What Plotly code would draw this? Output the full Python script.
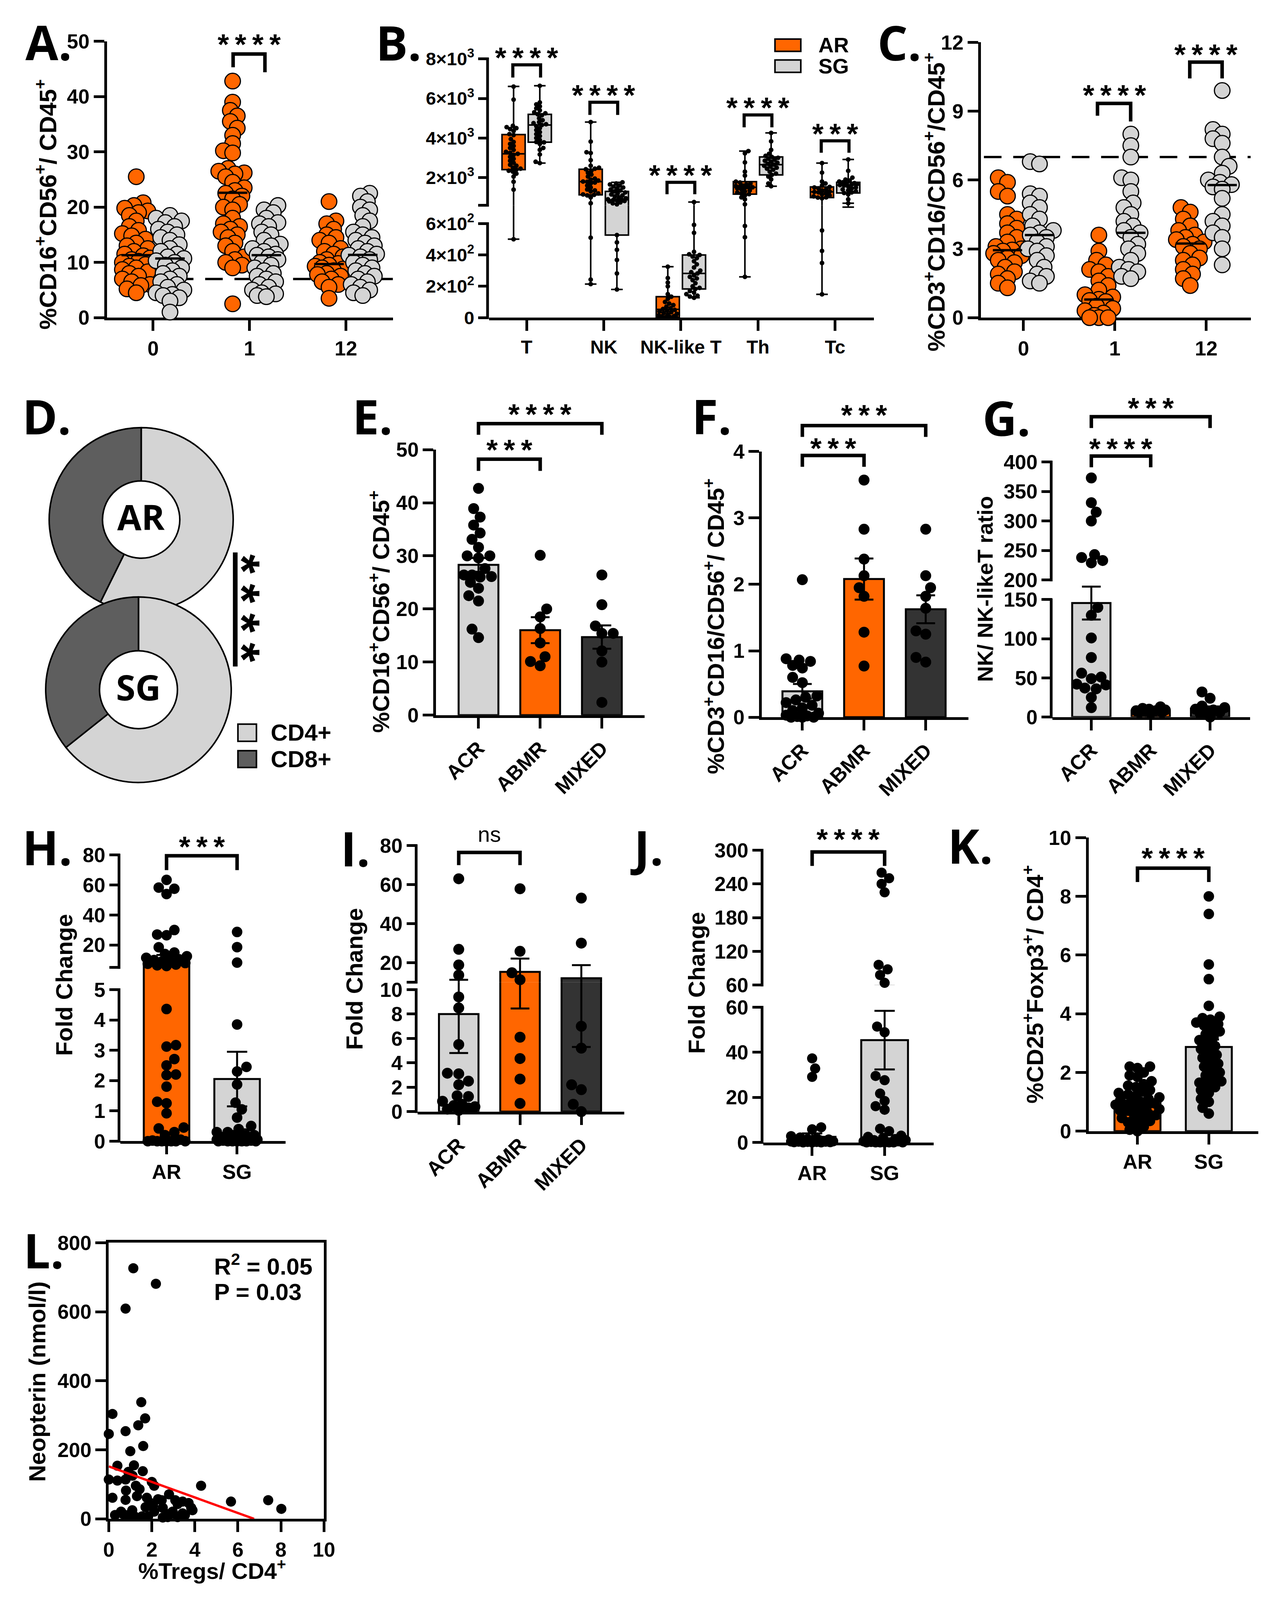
import numpy as np
import plotly.graph_objects as go

W, H = 3274, 4214          # reference coordinate frame
FIG_H = 4096               # visible viewport height of the browser window
ORANGE = "#FF6600"
LGRAY = "#D4D4D4"
DARK = "#333333"
DONUT_DARK = "#5E5E5E"
FONT = "Liberation Sans, Arial, Helvetica, sans-serif"
LFONT = "Open Sans, Liberation Sans, sans-serif"
LW = 7
TL = 27
BAR_W = 0.645
TFS = 52                   # tick font size of the lower panels

# ======================= DATA =======================
# ---- A : %CD16+CD56+/CD45+ over time (AR vs SG)
A_CATS = ["0", "1", "12"]
A_AR_0 = [25.5, 20.8, 20.3, 19.8, 19.3, 19.0, 18.5, 17.5, 16.5, 15.8, 15.2, 14.8, 14.2, 13.5, 13.0, 12.5, 12.0, 11.5,
          11.2, 10.8, 10.5, 10.2, 10.0, 9.6, 9.3, 9.0, 8.7, 8.3, 8.0, 7.5, 7.0, 6.5, 6.0, 5.8, 5.2, 4.5]
A_SG_0 = [18.5, 18.0, 17.5, 17.2, 16.5, 16.0, 15.5, 15.0, 14.5, 14.0, 13.2, 12.5, 12.0, 11.5, 11.0, 10.7, 10.3, 10.0,
          9.5, 9.0, 8.5, 8.0, 7.5, 7.0, 6.5, 6.0, 5.5, 5.0, 4.5, 4.2, 4.0, 3.6, 3.0, 1.0]
A_AR_1 = [42.8, 39.0, 37.5, 36.5, 35.5, 34.3, 33.0, 31.5, 30.2, 29.8, 27.0, 26.5, 26.2, 26.0, 25.5, 24.5, 23.5, 23.0,
          22.5, 22.0, 21.5, 20.5, 20.0, 19.5, 18.0, 17.0, 16.5, 16.0, 15.5, 15.0, 14.5, 13.5, 13.0, 12.0, 11.0, 10.5,
          10.0, 9.5, 9.0, 2.5]
A_SG_1 = [20.3, 19.5, 19.0, 18.0, 17.2, 17.0, 16.5, 15.5, 15.0, 14.0, 13.3, 13.0, 12.5, 12.0, 11.5, 11.3, 11.0, 10.5,
          10.0, 9.5, 9.0, 8.5, 8.0, 7.5, 7.0, 6.5, 6.0, 5.5, 5.0, 4.5, 4.3, 4.0, 3.8]
A_AR_12 = [21.0, 17.5, 17.0, 16.0, 15.0, 14.5, 14.0, 13.5, 12.5, 12.0, 11.5, 11.0, 10.5, 10.0, 9.8, 9.5, 9.3, 9.0,
           8.8, 8.5, 8.0, 7.8, 7.5, 7.0, 6.5, 6.0, 5.5, 3.5]
A_SG_12 = [22.5, 22.0, 21.0, 20.0, 19.5, 18.5, 17.5, 16.5, 15.5, 15.0, 14.5, 14.0, 13.5, 13.0, 12.5, 12.0, 11.5, 11.3,
           11.0, 10.5, 10.0, 9.5, 9.0, 8.5, 8.0, 7.5, 7.0, 6.5, 6.0, 5.5, 5.0, 4.5, 4.0]
A_MED_AR = [11.3, 22.6, 9.7]
A_MED_SG = [10.7, 11.3, 11.35]
A_CUTOFF = 7
A_YTICKS = [0, 10, 20, 30, 40, 50]

# ---- B : absolute counts, box plots (min, q1, median, q3, max)
B_CATS = ["T", "NK", "NK-like T", "Th", "Tc"]
B_AR_MIN = [501, 214, 0, 260, 149]
B_AR_Q1 = [2401, 1129, 2, 1163, 992]
B_AR_MED = [3203, 1794, 53, 1507, 1278]
B_AR_Q3 = [4177, 2424, 134, 1794, 1530]
B_AR_MAX = [6607, 4808, 325, 3341, 2733]
B_SG_MIN = [2733, 180, 127, 1565, 705]
B_SG_Q1 = [3788, 527, 183, 2138, 1221]
B_SG_MED = [4659, 877, 282, 2653, 1622]
B_SG_Q3 = [5197, 1301, 400, 3043, 1759]
B_SG_MAX = [6641, 1759, 762, 4258, 2917]
B_T_AR = [6600, 5940, 4620, 4550, 4500, 4450, 4350, 4200, 4150, 3950, 3800, 3700, 3600, 3500, 3400, 3300, 3250, 3200,
          3150, 3050, 2950, 2850, 2750, 2650, 2600, 2500, 2450, 2400, 2350, 2300, 2200, 2050, 1790, 1390, 500]
B_T_SG = [6640, 5800, 5700, 5600, 5500, 5400, 5300, 5250, 5200, 5150, 5000, 4900, 4800, 4750, 4700, 4660, 4600, 4500,
          4400, 4300, 4200, 4100, 4000, 3900, 3800, 3780, 3700, 3500, 3400, 3170, 2800, 2733]
B_NK_AR = [4808, 3820, 3280, 3240, 2880, 2600, 2500, 2450, 2420, 2350, 2250, 2150, 2050, 1950, 1900, 1850, 1800, 1790,
           1750, 1700, 1600, 1500, 1400, 1350, 1300, 1200, 1150, 1130, 1100, 1000, 705, 510, 243, 214]
B_NK_SG = [1759, 1700, 1650, 1600, 1550, 1500, 1450, 1400, 1350, 1300, 1250, 1200, 1150, 1100, 1050, 1000, 950, 900,
           880, 870, 850, 820, 800, 750, 700, 650, 527, 480, 433, 368, 282, 180]
B_NKT_AR = [325, 253, 224, 200, 150, 134, 120, 100, 90, 80, 70, 60, 55, 50, 45, 40, 35, 30, 25, 20, 15, 10, 8, 5, 3,
            2, 0, 0, 0, 0]
B_NKT_SG = [762, 592, 541, 420, 404, 400, 390, 380, 360, 340, 320, 300, 290, 282, 270, 260, 250, 240, 220, 200, 190,
            183, 170, 160, 150, 140, 135, 127]
B_TH_AR = [3341, 3226, 2768, 2300, 2100, 1794, 1750, 1700, 1650, 1600, 1580, 1550, 1520, 1507, 1490, 1450, 1400, 1350,
           1300, 1250, 1200, 1163, 1100, 1000, 900, 648, 585, 513, 260]
B_TH_SG = [4258, 3834, 3400, 3200, 3100, 3043, 3000, 2950, 2900, 2850, 2800, 2750, 2700, 2653, 2600, 2550, 2500, 2450,
           2400, 2300, 2200, 2138, 2050, 1908, 1700, 1565]
B_TC_AR = [2733, 2252, 1800, 1700, 1600, 1530, 1500, 1450, 1400, 1350, 1300, 1278, 1250, 1200, 1150, 1100, 1050, 1000,
           992, 950, 556, 426, 349, 149]
B_TC_SG = [2917, 2344, 2000, 1900, 1850, 1800, 1759, 1720, 1700, 1680, 1650, 1622, 1600, 1550, 1500, 1450, 1400, 1350,
           1300, 1250, 1221, 1150, 900, 705]

# ---- C : %CD3+CD16/CD56+/CD45+
C_AR_0 = [6.1, 5.9, 5.5, 5.3, 4.5, 4.3, 4.1, 3.9, 3.7, 3.5, 3.3, 3.1, 3.0, 2.95, 2.9, 2.8, 2.7, 2.6, 2.5, 2.4, 2.2,
          2.0, 1.9, 1.7, 1.5, 1.3]
C_SG_0 = [6.8, 6.7, 5.4, 5.3, 5.0, 4.8, 4.5, 4.3, 4.0, 3.8, 3.7, 3.6, 3.5, 3.3, 3.1, 3.0, 2.9, 2.7, 2.5, 2.2, 1.9, 1.8,
          1.6, 1.5]
C_AR_1 = [3.6, 2.9, 2.5, 2.3, 2.1, 2.0, 1.8, 1.6, 1.4, 1.2, 1.0, 0.9, 0.8, 0.75, 0.7, 0.5, 0.4, 0.3, 0.2, 0.1, 0.0,
          0.0, 0.0]
C_SG_1 = [8.0, 7.5, 7.0, 6.1, 6.0, 5.5, 5.0, 4.8, 4.5, 4.2, 4.0, 3.8, 3.7, 3.5, 3.2, 3.0, 2.8, 2.5, 2.2, 2.1, 2.0, 1.8,
          1.7]
C_AR_12 = [4.8, 4.6, 4.3, 4.0, 3.8, 3.6, 3.5, 3.4, 3.3, 3.2, 3.1, 3.0, 2.8, 2.6, 2.5, 2.3, 2.1, 1.9, 1.7, 1.4]
C_SG_12 = [9.9, 8.2, 8.0, 7.8, 7.6, 7.0, 6.6, 6.3, 6.0, 5.9, 5.8, 5.7, 5.6, 5.2, 4.5, 4.2, 4.0, 3.7, 3.5, 3.0, 2.3]
C_MED_AR = [2.94, 0.79, 3.23]
C_MED_SG = [3.6, 3.7, 5.78]
C_CUTOFF = 7
C_YTICKS = [0, 3, 6, 9, 12]

# ---- D : CD4/CD8 composition (%)
D_LABELS = ["CD4+", "CD8+"]
D_AR = [57.3, 42.7]
D_SG = [64.3, 35.7]

# ---- E, F, G : rejection types
REJ_CATS = ["ACR", "ABMR", "MIXED"]
E_ACR = [42.7, 38.9, 37.3, 35.8, 34.3, 33.1, 31.6, 30.0, 30.0, 29.6, 27.6, 26.4, 26.4, 26.1, 26.0, 25.0, 23.9, 22.5,
         21.5, 16.2, 14.6]
E_ABMR = [30.1, 20.0, 18.5, 16.3, 13.6, 11.0, 10.1, 9.3]
E_MIXED = [26.4, 20.8, 16.8, 15.4, 15.4, 12.1, 10.0, 2.4]
E_MEAN = [28.3, 16.0, 14.7]
E_SEM = [1.3, 2.45, 2.2]

F_ACR = [2.07, 0.88, 0.86, 0.84, 0.78, 0.74, 0.60, 0.52, 0.32, 0.30, 0.26, 0.22, 0.18, 0.14, 0.10, 0.06, 0.03, 0.02,
         0.01, 0.0, 0.0, 0.0]
F_ABMR = [3.57, 2.83, 2.38, 2.13, 1.95, 1.82, 1.28, 0.77]
F_MIXED = [2.83, 2.13, 1.95, 1.82, 1.64, 1.30, 1.25, 0.90, 0.83]
F_MEAN = [0.39, 2.08, 1.625]
F_SEM = [0.11, 0.31, 0.21]

G_ACR = [373, 331, 315, 300, 243, 238, 233, 229, 140, 130, 101, 76, 56, 51, 49, 42, 41, 37, 36, 25, 12]
G_ABMR = [13, 11, 10, 9, 8, 8, 7, 6, 6, 5]
G_MIXED = [32, 24, 14, 12, 10, 9, 8, 6, 4, 0]
G_MEAN = [145.6, 7.8, 10.5]
G_SEM = [21.0, 0.8, 3.0]

# ---- H, I, J : fold change
AR_SG = ["AR", "SG"]
H_AR = [63.4, 58.3, 57.5, 54.0, 30.0, 27.0, 26.5, 18.5, 15.0, 14.0, 12.5, 11.5, 10.5, 10.0, 9.5, 9.0, 8.0, 7.5, 7.0,
        6.5, 6.0, 4.36, 3.17, 3.12, 2.71, 2.5, 2.2, 2.18, 1.8, 1.3, 1.25, 0.92, 0.45, 0.42, 0.3, 0.2, 0.05, 0.02, 0.0,
        0.0, 0.0, 0.0, 0.0, 0.0, 0.0]
H_SG = [28.7, 18.6, 8.3, 3.85, 2.45, 2.3, 1.87, 1.27, 1.05, 0.78, 0.5, 0.4, 0.3, 0.3, 0.25, 0.2, 0.2, 0.15, 0.15, 0.1,
        0.1, 0.1, 0.1, 0.05, 0.05, 0.05, 0.02, 0.02, 0.0, 0.0, 0.0, 0.0, 0.0, 0.0, 0.0]
H_MEAN = [10.8, 2.05]
H_SEM = [2.6, 0.9]

I_ACR = [63.0, 26.8, 18.8, 13.6, 9.4, 8.5, 5.5, 3.15, 3.1, 2.5, 2.2, 1.3, 1.24, 0.85, 0.6, 0.5, 0.4, 0.3, 0.2, 0.1]
I_ABMR = [57.9, 25.8, 14.8, 11.2, 6.1, 4.35, 2.67, 0.67]
I_MIXED = [53.1, 30.0, 7.0, 5.2, 2.2, 1.8, 0.6, 0.0]
I_MEAN = [8.0, 15.25, 12.0]
I_SEM = [3.2, 6.8, 6.7]

J_AR = [37.3, 32.8, 29.1, 6.7, 5.8, 2.8, 2.2, 1.8, 1.5, 1.3, 1.2, 1.0, 0.9, 0.8, 0.7, 0.6, 0.5, 0.5, 0.4, 0.3, 0.3,
        0.2, 0.2, 0.1, 0.1, 0.0, 0.0, 0.0]
J_SG = [260, 250, 240, 225, 96, 88, 78, 64, 51.4, 48.9, 29.5, 27.6, 21.7, 18.4, 16.1, 14.5, 6.1, 5.0, 3.0, 2.5, 2.0,
        1.5, 1.0, 1.0, 0.5, 0.5, 0.2, 0.0, 0.0, 0.0, 0.0, 0.0, 0.0, 0.0]
J_MEAN = [2.5, 45.4]
J_SEM = [1.5, 13.0]

# ---- K : %CD25+Foxp3+/CD4+
K_AR = [2.2, 2.2, 2.15, 2.0, 1.9, 1.85, 1.7, 1.6, 1.55, 1.5, 1.4, 1.35, 1.3, 1.25, 1.2, 1.15, 1.1, 1.05, 1.0, 1.0,
        0.95, 0.9, 0.9, 0.85, 0.8, 0.75, 0.7, 0.7, 0.65, 0.6, 0.55, 0.5, 0.45, 0.4, 0.35, 0.3, 0.25, 0.15, 0.05, 0.0]
K_SG = [8.0, 7.4, 5.68, 5.18, 4.27, 3.9, 3.85, 3.8, 3.7, 3.65, 3.6, 3.5, 3.4, 3.3, 3.2, 3.1, 3.0, 2.9, 2.8, 2.7, 2.6,
        2.5, 2.4, 2.3, 2.2, 2.1, 2.0, 1.9, 1.8, 1.7, 1.65, 1.6, 1.5, 1.4, 1.3, 1.1, 1.0, 0.8, 0.6]
K_MEAN = [1.02, 2.87]
K_SEM = [0.09, 0.25]

# ---- L : Neopterin vs %Tregs
L_TREG = [1.14, 2.19, 0.78, 1.51, 0.17, 1.69, 1.37, 0.78, 0.0, 1.6, 1.0, 0.4, 1.17, 1.58, 0.91, 0.78, 0.0, 0.4, 1.1,
          2.0, 1.26, 1.43, 2.11, 0.8, 2.8, 0.17, 1.77, 2.29, 1.94, 0.78, 1.31, 3.09, 3.43, 3.71, 3.83, 3.2, 2.51, 1.71,
          2.11, 2.97, 3.43, 3.54, 3.89, 4.29, 5.68, 7.41, 8.02, 0.29, 0.66, 0.91, 1.09, 1.2, 1.54, 1.83, 2.51, 3.2,
          0.97, 2.74, 2.06, 0.57, 2.46, 2.69]
L_NEOP = [726, 681, 609, 338, 304, 291, 271, 254, 246, 211, 196, 154, 155, 138, 136, 114, 114, 111, 125, 107, 96, 86,
          96, 82, 71, 61, 61, 57, 46, 55, 66, 54, 50, 46, 32, 43, 32, 34, 21, 21, 16, 11, 25, 96, 50, 54, 29, 11, 14,
          11, 25, 7, 7, 7, 4, 5, 12, 5, 39, 21, 54, 14]
L_FIT_INTERCEPT = 152.0
L_FIT_SLOPE = -22.5
L_R2 = "0.05"
L_P = "0.03"

# ======================= HELPERS =======================
fig = go.Figure()
AX = {}
SHAPES = []
ANNS = []


def key(ref):
    return ("xaxis" if ref[0] == "x" else "yaxis") + ref[1:]


class Lin:
    def __init__(self, p0, p1, r0, r1):
        self.p0, self.p1, self.r0, self.r1 = p0, p1, r0, r1

    def __call__(self, v):
        return self.p0 + (v - self.r0) * (self.p1 - self.p0) / (self.r1 - self.r0)


def style(fs, showline=True):
    return dict(showgrid=False, zeroline=False, showline=showline, linecolor="black", linewidth=LW,
                ticks="outside", ticklen=TL, tickwidth=LW, tickcolor="black",
                tickfont=dict(family=FONT, size=fs, color="black", weight="bold"),
                layer="below traces", fixedrange=True)


def cat_x(ref, anchor, xl, xr, c0, cs, labels, fs, angle=0):
    r0, r1 = (xl - c0) / cs, (xr - c0) / cs
    d = dict(domain=[xl / W, xr / W], range=[r0, r1], anchor=anchor, tickmode="array",
             tickvals=list(range(len(labels))), ticktext=labels, tickangle=angle)
    d.update(style(fs))
    AX[key(ref)] = d
    return Lin(xl, xr, r0, r1)


def lin_y(ref, anchor, bottom, top, topval, tickvals, fs, ticktext=None):
    d = dict(domain=[1 - bottom / H, 1 - top / H], range=[0, topval], anchor=anchor, tickmode="array",
             tickvals=tickvals, ticktext=ticktext if ticktext else [str(t) for t in tickvals])
    d.update(style(fs))
    AX[key(ref)] = d
    return Lin(bottom, top, 0, topval)


def seg(x0, y0, x1, y1, w=LW):
    SHAPES.append(dict(type="line", xref="paper", yref="paper", x0=x0 / W, y0=1 - y0 / H, x1=x1 / W,
                       y1=1 - y1 / H, line=dict(color="black", width=w)))


def broken_y(lref, uref, anchor, xl, bottom, ltop_val, ltop_px, cap_val, cap_px, top_val, top_px,
             ltv, ltt, utv, utt, fs):
    lext = ltop_val * (bottom - cap_px) / (bottom - ltop_px)
    d = dict(domain=[1 - bottom / H, 1 - cap_px / H], range=[0, lext], anchor=anchor, tickmode="array",
             tickvals=ltv, ticktext=ltt)
    d.update(style(fs, False))
    AX[key(lref)] = d
    eps = (top_val - cap_val) * 2e-4
    d = dict(domain=[1 - cap_px / H, 1 - top_px / H], range=[cap_val - eps, top_val], anchor=anchor,
             tickmode="array", tickvals=utv, ticktext=utt)
    d.update(style(fs, False))
    AX[key(uref)] = d
    lo = Lin(bottom, cap_px, 0, lext)
    up = Lin(cap_px, top_px, cap_val, top_val)
    xline = xl - LW / 2
    seg(xline, bottom + LW / 2, xline, ltop_px - LW / 2)
    seg(xline, cap_px + LW / 2, xline, top_px - LW / 2)

    def m(v):
        return float(up(v)) if v >= cap_val else float(lo(v))
    return m, cap_val


def swarm(ypx, diam, maxw, mind):
    ypx = np.asarray(ypx, float)
    n = len(ypx)
    offs = np.zeros(n)
    step = max(diam * 0.15, 1.0)
    cands = [0.0]
    k = 1
    while k * step <= maxw + 1e-9:
        cands += [k * step, -k * step]
        k += 1
    px_, py_ = [], []
    order = np.argsort(-ypx, kind="stable")
    for j, i in enumerate(order):
        cl = cands if j % 2 == 0 else [-c for c in cands]
        best_c, best_d = 0.0, -1.0
        for c in cl:
            if px_:
                d = float(np.min(np.hypot(np.array(px_) - c, np.array(py_) - ypx[i])))
            else:
                d = 1e9
            if d >= mind:
                best_c = c
                break
            if d > best_d:
                best_d, best_c = d, c
        offs[i] = best_c
        px_.append(best_c)
        py_.append(ypx[i])
    return offs


def add_pts(xref, yref, center, vals, cs, ymap, diam, maxw, mind, fill, lw, size=None,
            yref_up=None, cap=None):
    vals = np.asarray(vals, float)
    ypx = [ymap(v) for v in vals]
    xs = center + swarm(ypx, diam, maxw, mind) / cs
    size = size or diam
    mk = dict(size=size, color=fill, line=dict(color="black", width=lw))
    if yref_up is None:
        fig.add_trace(go.Scatter(x=xs, y=vals, mode="markers", marker=mk, xaxis=xref, yaxis=yref,
                                 cliponaxis=False, hoverinfo="skip"))
    else:
        lowm = vals < cap
        fig.add_trace(go.Scatter(x=xs[lowm], y=vals[lowm], mode="markers", marker=mk, xaxis=xref, yaxis=yref,
                                 cliponaxis=False, hoverinfo="skip"))
        fig.add_trace(go.Scatter(x=xs[~lowm], y=vals[~lowm], mode="markers", marker=mk, xaxis=xref,
                                 yaxis=yref_up, cliponaxis=False, hoverinfo="skip"))


def bracket(xL, xR, ytop, yLl, yRl, w=9):
    path = "M {:.6f},{:.6f} L {:.6f},{:.6f} L {:.6f},{:.6f} L {:.6f},{:.6f}".format(
        xL / W, 1 - yLl / H, xL / W, 1 - ytop / H, xR / W, 1 - ytop / H, xR / W, 1 - yRl / H)
    SHAPES.append(dict(type="path", xref="paper", yref="paper", path=path, line=dict(color="black", width=w)))


def text(x, y, s, size, family=FONT, weight="bold", angle=0, xanchor="center", yanchor="middle", yshift=0,
         xshift=0):
    ANNS.append(dict(x=x / W, y=1 - y / H, xref="paper", yref="paper", text=s, showarrow=False,
                     textangle=angle, xanchor=xanchor, yanchor=yanchor, yshift=yshift, xshift=xshift,
                     font=dict(family=family, size=size, color="black", weight=weight)))


def letter(x, y, s):
    # panel letters; small upward nudge compensates the text box of the heavy font
    text(x, y - 14, s, 122, family=LFONT)


def stars(x, y, n, size=75):
    s = "\u2009".join(["*"] * n)
    text(x, y, s, size, yshift=-0.25 * size)


def rect(x0, y0, x1, y1, fill, w=4):
    SHAPES.append(dict(type="rect", xref="paper", yref="paper", x0=x0 / W, x1=x1 / W, y0=1 - y1 / H,
                       y1=1 - y0 / H, fillcolor=fill, line=dict(color="black", width=w)))


def bars(xref, yref, means, sem, colors, wcap=24):
    fig.add_trace(go.Bar(x=list(range(len(means))), y=means, width=BAR_W,
                         marker=dict(color=colors, line=dict(color="black", width=5)),
                         error_y=dict(type="data", array=sem, color="black", thickness=5, width=wcap),
                         xaxis=xref, yaxis=yref, hoverinfo="skip"))


# ======================= PANEL A =======================
xA = cat_x("x", "y", 263, 1005, 383, 250, A_CATS, 52)
yA = lin_y("y", "x", 815, 76, 50, A_YTICKS, 52)
fig.add_trace(go.Scatter(x=[(290 - 383) / 250, xA.r1], y=[A_CUTOFF, A_CUTOFF], mode="lines",
                         line=dict(color="black", width=6, dash="45px,30px"), xaxis="x", yaxis="y",
                         hoverinfo="skip"))
for i, (ar, sg) in enumerate([(A_AR_0, A_SG_0), (A_AR_1, A_SG_1), (A_AR_12, A_SG_12)]):
    add_pts("x", "y", i - 0.175, ar, 250, yA, 40, 40, 22, ORANGE, 3)
    add_pts("x", "y", i + 0.175, sg, 250, yA, 40, 40, 22, LGRAY, 3)
for i in range(3):
    for off, med in ((-0.175, A_MED_AR[i]), (0.175, A_MED_SG[i])):
        fig.add_trace(go.Scatter(x=[i + off - 0.153, i + off + 0.153], y=[med, med], mode="lines",
                                 line=dict(color="black", width=6), xaxis="x", yaxis="y", hoverinfo="skip"))
bracket(xA(1 - 0.17), xA(1 + 0.16), yA(47.7), yA(45.3), yA(44.4))
stars(xA(1), yA(50.8), 4)
letter(112, 91, "A.")
text(105, 512, "%CD16<sup>+</sup>CD56<sup>+</sup>/ CD45<sup>+</sup>", 62, angle=-90)

# ======================= PANEL B =======================
xB = cat_x("x2", "y2", 1254, 2253, 1352, 200, B_CATS, 48)
yB, capB = broken_y("y2", "y3", "x2", 1254, 815, 600, 563.5, 600, 514.6, 8000, 123,
                    [0, 200, 400, 600], ["0", "2×10<sup>2</sup>", "4×10<sup>2</sup>", "6×10<sup>2</sup>"],
                    [600, 2000, 4000, 6000, 8000],
                    ["", "2×10<sup>3</sup>", "4×10<sup>3</sup>", "6×10<sup>3</sup>", "8×10<sup>3</sup>"], 47)
B_OFF = 0.17
B_PTS_AR = [B_T_AR, B_NK_AR, B_NKT_AR, B_TH_AR, B_TC_AR]
B_PTS_SG = [B_T_SG, B_NK_SG, B_NKT_SG, B_TH_SG, B_TC_SG]
for i in range(5):
    for off, col, mn, q1, md, q3, mx in ((-B_OFF, ORANGE, B_AR_MIN, B_AR_Q1, B_AR_MED, B_AR_Q3, B_AR_MAX),
                                         (B_OFF, LGRAY, B_SG_MIN, B_SG_Q1, B_SG_MED, B_SG_Q3, B_SG_MAX)):
        for yr in ("y2", "y3"):
            fig.add_trace(go.Box(x=[i + off], q1=[q1[i]], median=[md[i]], q3=[q3[i]], lowerfence=[mn[i]],
                                 upperfence=[mx[i]], width=0.3, whiskerwidth=0.5, fillcolor=col,
                                 line=dict(color="black", width=4), boxpoints=False, orientation="v",
                                 xaxis="x2", yaxis=yr, hoverinfo="skip"))
for i in range(5):
    add_pts("x2", "y2", i - B_OFF, B_PTS_AR[i], 200, yB, 12, 24, 10, "black", 0, yref_up="y3", cap=capB)
    add_pts("x2", "y2", i + B_OFF, B_PTS_SG[i], 200, yB, 12, 24, 10, "black", 0, yref_up="y3", cap=capB)
B_BRK = [(8435, 7698, 7056, 4), (6544, 5807, 5165, 4), (2501, 1764, 1159, 4), (5921, 5165, 4542, 4),
         (4597, 3860, 3257, 3)]
for i, (sv, tv, lv, n) in enumerate(B_BRK):
    bracket(xB(i - 0.18), xB(i + 0.18), yB(tv), yB(lv), yB(lv), w=8)
    stars(xB(i), yB(sv), n)
rect(1996, 70, 2063, 103, ORANGE)
rect(1996, 126, 2063, 159, LGRAY)
text(2107, 86, "AR", 54, xanchor="left")
text(2107, 142, "SG", 54, xanchor="left")
letter(1020, 92, "B.")

# ======================= PANEL C =======================
xC = cat_x("x3", "y4", 2530, 3230, 2640.6, 237, A_CATS, 52)
yC = lin_y("y4", "x3", 815, 78.8, 12, C_YTICKS, 52)
fig.add_trace(go.Scatter(x=[(2538 - 2640.6) / 237, xC.r1], y=[C_CUTOFF, C_CUTOFF], mode="lines",
                         line=dict(color="black", width=6, dash="45px,30px"), xaxis="x3", yaxis="y4",
                         hoverinfo="skip"))
for i, (ar, sg) in enumerate([(C_AR_0, C_SG_0), (C_AR_1, C_SG_1), (C_AR_12, C_SG_12)]):
    add_pts("x3", "y4", i - 0.175, ar, 237, yC, 40, 40, 22, ORANGE, 3)
    add_pts("x3", "y4", i + 0.175, sg, 237, yC, 40, 40, 22, LGRAY, 3)
for i in range(3):
    for off, med in ((-0.175, C_MED_AR[i]), (0.175, C_MED_SG[i])):
        fig.add_trace(go.Scatter(x=[i + off - 0.16, i + off + 0.16], y=[med, med], mode="lines",
                                 line=dict(color="black", width=6), xaxis="x3", yaxis="y4", hoverinfo="skip"))
bracket(xC(1 - 0.19), xC(1 + 0.173), yC(9.34), yC(8.8), yC(8.55))
stars(xC(1), yC(10.03), 4)
bracket(xC(2 - 0.18), xC(2 + 0.174), yC(11.14), yC(10.43), yC(10.43))
stars(xC(2), yC(11.8), 4)
letter(2319, 92, "C.")
text(2410, 506, "%CD3<sup>+</sup>CD16/CD56<sup>+</sup>/CD45<sup>+</sup>", 62, angle=-90)

# ======================= PANEL D =======================
D_HOLE = 0.42


def donut(vals, cx, cy, r):
    fig.add_trace(go.Pie(values=vals, labels=D_LABELS, marker=dict(colors=[LGRAY, DONUT_DARK],
                                                                   line=dict(color="black", width=4)),
                         hole=D_HOLE, sort=False, direction="clockwise", rotation=0, textinfo="none",
                         hoverinfo="skip", showlegend=False,
                         domain=dict(x=[(cx - r) / W, (cx + r) / W], y=[1 - (cy + r) / H, 1 - (cy - r) / H])))


donut(D_AR, 352, 1355, 246)
donut(D_SG, 345, 1810, 248)
text(352, 1347, "AR", 90, family=LFONT)
text(345, 1802, "SG", 90, family=LFONT)
seg(596, 1443, 596, 1748, w=12)
text(648, 1592, "*\u2009*\u2009*\u2009*", 128, angle=90, xshift=-0.26 * 128)
rect(603, 1902, 651, 1948, LGRAY)
rect(603, 1973, 651, 2018, DONUT_DARK)
text(686, 1925, "CD4+", 60, xanchor="left")
text(686, 1996, "CD8+", 60, xanchor="left")
letter(107, 1092, "D.")

# ======================= PANEL E =======================
xE = cat_x("x4", "y5", 1117, 1658, 1227, 160, REJ_CATS, TFS, angle=-45)
yE = lin_y("y5", "x4", 1878, 1168, 50, [0, 10, 20, 30, 40, 50], TFS)
bars("x4", "y5", E_MEAN, E_SEM, [LGRAY, ORANGE, DARK])
for i, v in enumerate([E_ACR, E_ABMR, E_MIXED]):
    add_pts("x4", "y5", i, v, 160, yE, 28, 42, 26, "black", 0)
bracket(xE(0), xE(1), yE(48.2), yE(46.0), yE(46.0))
stars(xE(0.5), yE(51.4), 3)
bracket(xE(0), xE(2), yE(54.9), yE(52.8), yE(52.8))
stars(xE(1), yE(58.1), 4)
letter(952, 1092, "E.")
text(969, 1601, "%CD16<sup>+</sup>CD56<sup>+</sup>/ CD45<sup>+</sup>", 60, angle=-90)

# ======================= PANEL F =======================
xF = cat_x("x5", "y6", 1962, 2497.6, 2067, 160, REJ_CATS, TFS, angle=-45)
yF = lin_y("y6", "x5", 1883.5, 1173, 4, [0, 1, 2, 3, 4], TFS)
bars("x5", "y6", F_MEAN, F_SEM, [LGRAY, ORANGE, DARK])
for i, v in enumerate([F_ACR, F_ABMR, F_MIXED]):
    add_pts("x5", "y6", i, v, 160, yF, 28, 42, 26, "black", 0)
bracket(xF(0), xF(1), yF(3.94), yF(3.77), yF(3.77))
stars(xF(0.5), yF(4.16), 3)
bracket(xF(0), xF(2), yF(4.39), yF(4.22), yF(4.22))
stars(xF(1), yF(4.66), 3)
letter(1832, 1092, "F.")
text(1838, 1640, "%CD3<sup>+</sup>CD16/CD56<sup>+</sup>/ CD45<sup>+</sup>", 60, angle=-90)

# ======================= PANEL G =======================
xG = cat_x("x6", "y7", 2716, 3228.8, 2816.6, 154, REJ_CATS, TFS, angle=-45)
yG, capG = broken_y("y7", "y8", "x6", 2716, 1883, 150, 1569, 200, 1516.6, 400, 1201,
                    [0, 50, 100, 150], ["0", "50", "100", "150"],
                    [200, 250, 300, 350, 400], ["200", "250", "300", "350", "400"], TFS)
for yr in ("y7", "y8"):
    bars("x6", yr, G_MEAN, G_SEM, [LGRAY, ORANGE, DARK])
for i, v in enumerate([G_ACR, G_ABMR, G_MIXED]):
    add_pts("x6", "y7", i, v, 154, yG, 28, 40, 26, "black", 0, yref_up="y8", cap=capG)
bracket(xG(0), xG(1), yG(410), yG(391), yG(391))
stars(xG(0.5), yG(435.5), 4)
bracket(xG(0), xG(2), yG(476.7), yG(457.6), yG(457.6))
stars(xG(1), yG(504.5), 3)
letter(2597, 1096, "G.")
text(2541, 1541, "NK/ NK-likeT ratio", 56, angle=-90)

# ======================= PANEL H =======================
xH = cat_x("x7", "y9", 298, 727, 417.8, 183, AR_SG, TFS)
yH, capH = broken_y("y9", "y10", "x7", 298, 3017.3, 5, 2612, 5, 2553, 80, 2252,
                    [0, 1, 2, 3, 4, 5], ["0", "1", "2", "3", "4", "5"],
                    [5, 20, 40, 60, 80], ["", "20", "40", "60", "80"], TFS)
for yr in ("y9", "y10"):
    bars("x7", yr, H_MEAN, H_SEM, [ORANGE, LGRAY], wcap=26)
add_pts("x7", "y9", 0, H_AR, 183, yH, 27, 55, 24, "black", 0, yref_up="y10", cap=capH)
add_pts("x7", "y9", 1, H_SG, 183, yH, 27, 55, 24, "black", 0, yref_up="y10", cap=capH)
bracket(xH(0), xH(1), yH(79.5), yH(69.9), yH(69.9))
stars(xH(0.5), yH(90.5), 3)
letter(108, 2244, "H.")
text(153, 2599, "Fold Change", 60, angle=-90)

# ======================= PANEL I =======================
xI = cat_x("x8", "y11", 1068.8, 1604.7, 1175.7, 159, REJ_CATS, TFS, angle=-45)
yI, capI = broken_y("y11", "y12", "x8", 1068.8, 2938.3, 10, 2612, 10, 2592, 80, 2227,
                    [0, 2, 4, 6, 8, 10], ["0", "2", "4", "6", "8", "10"],
                    [10, 20, 40, 60, 80], ["", "20", "40", "60", "80"], TFS)
for yr in ("y11", "y12"):
    bars("x8", yr, I_MEAN, I_SEM, [LGRAY, ORANGE, DARK])
for i, v in enumerate([I_ACR, I_ABMR, I_MIXED]):
    add_pts("x8", "y11", i, v, 159, yI, 28, 42, 26, "black", 0, yref_up="y12", cap=capI)
bracket(xI(0), xI(1), yI(76.5), yI(70), yI(70))
text(xI(0.5), yI(85.9), "ns", 56, weight="normal")
letter(907, 2247, "I.")
text(906, 2584, "Fold Change", 60, angle=-90)

# ======================= PANEL J =======================
xJ = cat_x("x9", "y13", 1966, 2408, 2092.4, 188, AR_SG, TFS)
yJ, capJ = broken_y("y13", "y14", "x9", 1966, 3020.6, 60, 2659, 60, 2600, 300, 2239,
                    [0, 20, 40, 60], ["0", "20", "40", "60"],
                    [60, 120, 180, 240, 300], ["60", "120", "180", "240", "300"], TFS)
for yr in ("y13", "y14"):
    bars("x9", yr, J_MEAN, J_SEM, [ORANGE, LGRAY], wcap=26)
add_pts("x9", "y13", 0, J_AR, 188, yJ, 26, 55, 23, "black", 0, yref_up="y14", cap=capJ)
add_pts("x9", "y13", 1, J_SG, 188, yJ, 26, 55, 23, "black", 0, yref_up="y14", cap=capJ)
bracket(xJ(0), xJ(1), yJ(296.7), yJ(272), yJ(272))
stars(xJ(0.5), yJ(332.7), 4)
letter(1663, 2244, "J.")
text(1793, 2594, "Fold Change", 60, angle=-90)

# ======================= PANEL K =======================
xK = cat_x("x10", "y15", 2809.5, 3250, 2936.3, 185, AR_SG, TFS)
yK = lin_y("y15", "x10", 2990.5, 2205.7, 10, [0, 2, 4, 6, 8, 10], TFS)
bars("x10", "y15", K_MEAN, K_SEM, [ORANGE, LGRAY], wcap=26)
add_pts("x10", "y15", 0, K_AR, 185, yK, 27, 58, 20, "black", 0)
add_pts("x10", "y15", 1, K_SG, 185, yK, 27, 58, 20, "black", 0)
bracket(xK(0), xK(1), yK(8.96), yK(8.49), yK(8.49))
stars(xK(0.5), yK(9.57), 4)
letter(2503, 2240, "K.")
text(2666, 2598, "%CD25<sup>+</sup>Foxp3<sup>+</sup>/ CD4<sup>+</sup>", 60, angle=-90)

# ======================= PANEL L =======================
dL = dict(domain=[268 / W, 826 / W], range=[0, 10], anchor="y16", tickmode="array",
          tickvals=[0, 2, 4, 6, 8, 10], ticktext=["0", "2", "4", "6", "8", "10"])
dL.update(style(52))
dL["mirror"] = True
AX["xaxis11"] = dL
dLy = dict(domain=[1 - 4027.3 / H, 1 - 3288.8 / H], range=[0, 800], anchor="x11", tickmode="array",
           tickvals=[0, 200, 400, 600, 800], ticktext=["0", "200", "400", "600", "800"])
dLy.update(style(52))
dLy["mirror"] = True
AX["yaxis16"] = dLy
fig.add_trace(go.Scatter(x=L_TREG, y=L_NEOP, mode="markers", marker=dict(size=26, color="black"),
                         xaxis="x11", yaxis="y16", cliponaxis=False, hoverinfo="skip"))
x_end = -L_FIT_INTERCEPT / L_FIT_SLOPE
fig.add_trace(go.Scatter(x=[0, x_end], y=[L_FIT_INTERCEPT, L_FIT_INTERCEPT + L_FIT_SLOPE * x_end],
                         mode="lines", line=dict(color="#FF0000", width=6), xaxis="x11", yaxis="y16",
                         hoverinfo="skip"))
text(539, 3348, "R<sup>2</sup> = " + L_R2, 60, xanchor="left")
text(539, 3421, "P = " + L_P, 60, xanchor="left")
letter(99, 3322, "L.")
text(83, 3660, "Neopterin (nmol/l)", 60, angle=-90)
text(536, 4162, "%Tregs/ CD4<sup>+</sup>", 58)

# ======================= LAYOUT =======================
# The figure is laid out in the reference frame (3274 x 4214) via paper fractions and
# rendered at the browser's visible height so nothing is cut off.
fig.update_layout(width=W, height=FIG_H, margin=dict(l=0, r=0, t=0, b=0), paper_bgcolor="white",
                  plot_bgcolor="rgba(0,0,0,0)", showlegend=False, barmode="overlay", boxmode="overlay",
                  hovermode=False, font=dict(family=FONT, color="black"), shapes=SHAPES, annotations=ANNS,
                  **AX)
POST = ("document.documentElement.style.margin='0';document.documentElement.style.padding='0';"
        "document.body.style.margin='0';document.body.style.padding='0';document.body.style.overflow='hidden';"
        "var d=document.getElementById('{plot_id}');d.style.position='absolute';d.style.left='0px';"
        "d.style.top='0px';")
fig.write_html("out.html", config={"displayModeBar": False}, post_script=POST)
